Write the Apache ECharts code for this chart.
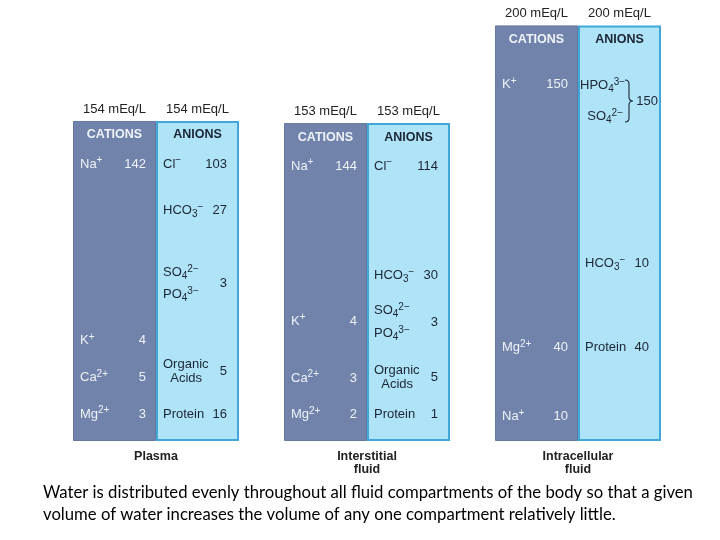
<!DOCTYPE html>
<html>
<head>
<meta charset="utf-8">
<script src="https://cdn.jsdelivr.net/npm/echarts@6/dist/echarts.min.js"></script>
<style>
  html, body { margin: 0; padding: 0; background: #fff; }
  #chart { width: 720px; height: 540px; }
</style>
</head>
<body>
<div id="chart"></div>
<script>
// compartments and their total charge (mEq/L, cations = anions)
const compartments = ['Plasma', 'Interstitial\nfluid', 'Intracellular\nfluid']
const totals = [154, 153, 200]

// ions: names use {sp|..} for superscript and {sb|..} for subscript
const plasmaCationIons = ['Na{sp|+}', 'K{sp|+}', 'Ca{sp|2+}', 'Mg{sp|2+}']
const plasmaCationValues = [142, 4, 5, 3]
const plasmaAnionIons = ['Cl{sp|−}', 'HCO{sb|3}{sp|−}', 'SO{sb|4}{sp|2−}\nPO{sb|4}{sp|3−}', 'Organic\n  Acids', 'Protein']
const plasmaAnionValues = [103, 27, 3, 5, 16]

const interstitialCationIons = ['Na{sp|+}', 'K{sp|+}', 'Ca{sp|2+}', 'Mg{sp|2+}']
const interstitialCationValues = [144, 4, 3, 2]
const interstitialAnionIons = ['Cl{sp|−}', 'HCO{sb|3}{sp|−}', 'SO{sb|4}{sp|2−}\nPO{sb|4}{sp|3−}', 'Organic\n  Acids', 'Protein']
const interstitialAnionValues = [114, 30, 3, 5, 1]

const intracellularCationIons = ['K{sp|+}', 'Mg{sp|2+}', 'Na{sp|+}']
const intracellularCationValues = [150, 40, 10]
const intracellularAnionIons = ['HPO{sb|4}{sp|3−}\n  SO{sb|4}{sp|2−}', 'HCO{sb|3}{sp|−}', 'Protein']
const intracellularAnionValues = [150, 10, 40]

// label layout: [share of column height from bottom, line spacing, brace]
const plasmaCationRows = [[0.865], [0.314], [0.198], [0.084]]
const plasmaAnionRows = [[0.865], [0.719], [0.491, 22], [0.218, 14], [0.084]]
const interstitialCationRows = [[0.865], [0.377], [0.198], [0.084]]
const interstitialAnionRows = [[0.865], [0.521], [0.374, 23], [0.2, 14], [0.084]]
const intracellularCationRows = [[0.857], [0.225], [0.059]]
const intracellularAnionRows = [[0.818, 31, true], [0.427], [0.225]]

const BAR_W = 83
const FONT = '"Liberation Sans", Arial, sans-serif'

const labelRows = []
function addColumn(cat, side, names, values, rows) {
  labelRows.push({ cat, side, header: true, name: side === 0 ? 'CATIONS' : 'ANIONS', frac: 1 })
  names.forEach((name, i) => {
    const r = rows[i]
    labelRows.push({ cat, side, name, value: values[i], frac: r[0], lineHeight: r[1] || 14, brace: !!r[2] })
  })
}
addColumn(0, 0, plasmaCationIons, plasmaCationValues, plasmaCationRows)
addColumn(0, 1, plasmaAnionIons, plasmaAnionValues, plasmaAnionRows)
addColumn(1, 0, interstitialCationIons, interstitialCationValues, interstitialCationRows)
addColumn(1, 1, interstitialAnionIons, interstitialAnionValues, interstitialAnionRows)
addColumn(2, 0, intracellularCationIons, intracellularCationValues, intracellularCationRows)
addColumn(2, 1, intracellularAnionIons, intracellularAnionValues, intracellularAnionRows)

function renderLabel(params, api) {
  const row = labelRows[params.dataIndex]
  const pt = api.coord([api.value(0), api.value(1)])
  const left = pt[0] + (row.side === 0 ? -BAR_W : 0)
  const right = left + BAR_W
  const color = row.side === 0 ? '#eef2f9' : '#1c2533'
  const children = []
  if (row.header) {
    children.push({
      type: 'text',
      style: { text: row.name, x: left + BAR_W / 2, y: pt[1] + 14, align: 'center', verticalAlign: 'middle', fill: color, font: 'bold 12.5px ' + FONT }
    })
    return { type: 'group', children }
  }
  const rich = {
    sp: { fontSize: 10, lineHeight: 17, verticalAlign: 'top', fill: color, fontFamily: FONT },
    sb: { fontSize: 10, lineHeight: 17, verticalAlign: 'bottom', fill: color, fontFamily: FONT }
  }
  const lines = row.name.split('\n')
  const x0 = left + (row.brace ? 2 : 7)
  lines.forEach((line, i) => {
    children.push({
      type: 'text',
      style: {
        text: line, x: x0, y: pt[1] - (lines.length - 1) * row.lineHeight / 2 + i * row.lineHeight,
        align: 'left', verticalAlign: 'middle', fill: color, fontSize: 13, fontFamily: FONT, lineHeight: 17, rich
      }
    })
  })
  if (row.brace) {
    const bx = right - 36
    const y = pt[1]
    const h = 21
    children.push({
      type: 'path',
      shape: {
        pathData: `M${bx},${y - h} Q${bx + 4},${y - h} ${bx + 4},${y - h + 4} L${bx + 4},${y - 4} Q${bx + 4},${y} ${bx + 8},${y} ` +
          `Q${bx + 4},${y} ${bx + 4},${y + 4} L${bx + 4},${y + h - 4} Q${bx + 4},${y + h} ${bx},${y + h}`
      },
      style: { fill: 'none', stroke: color, lineWidth: 1.1 }
    })
  }
  children.push({
    type: 'text',
    style: {
      text: String(row.value), x: right - (row.brace ? 3 : (row.side === 0 ? 10 : 12)), y: pt[1],
      align: 'right', verticalAlign: 'middle', fill: color, font: '13px ' + FONT
    }
  })
  return { type: 'group', children }
}

const chart = echarts.init(document.getElementById('chart'))
chart.setOption({
  animation: false,
  title: {
    text: 'Water is distributed evenly throughout all fluid compartments of the body so that a given\nvolume of water increases the volume of any one compartment relatively little.',
    left: 43,
    top: 482,
    padding: 0,
    textStyle: { fontFamily: 'Lato', fontSize: 16.7, fontWeight: 'normal', lineHeight: 22, color: '#000' }
  },
  grid: { left: 50.5, right: 36.5, top: 15, bottom: 99 },
  xAxis: {
    type: 'category',
    data: compartments,
    axisLine: { show: false },
    axisTick: { show: false },
    axisLabel: { fontFamily: FONT, fontSize: 12.5, fontWeight: 'bold', color: '#222', lineHeight: 13, margin: 9 }
  },
  yAxis: { type: 'value', min: 0, max: 205, show: false },
  series: [
    {
      name: 'Cations',
      type: 'bar',
      data: totals,
      barWidth: BAR_W,
      barGap: '0%',
      itemStyle: { color: '#7183aa', borderColor: '#66789f', borderWidth: 1 },
      label: { show: true, position: 'top', distance: 5, formatter: '{c} mEq/L', fontFamily: FONT, fontSize: 13, color: '#222' }
    },
    {
      name: 'Anions',
      type: 'bar',
      data: totals,
      barWidth: BAR_W,
      barGap: '0%',
      itemStyle: { color: '#afe3f7', borderColor: '#40a8d8', borderWidth: 2 },
      label: { show: true, position: 'top', distance: 5, formatter: '{c} mEq/L', fontFamily: FONT, fontSize: 13, color: '#222' }
    },
    {
      type: 'custom',
      renderItem: renderLabel,
      data: labelRows.map(r => [r.cat, r.frac * totals[r.cat]]),
      z: 10,
      silent: true
    }
  ]
})
</script>
</body>
</html>
